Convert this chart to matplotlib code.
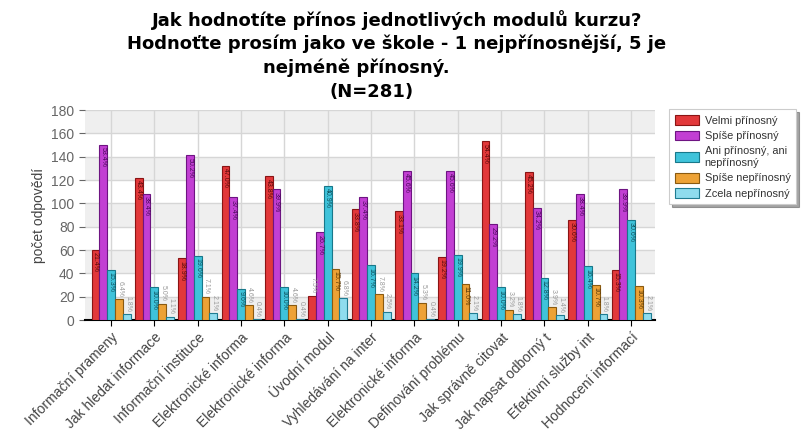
import matplotlib
matplotlib.use('Agg')
import matplotlib.pyplot as plt
import numpy as np

plt.rcParams['font.family'] = ['Liberation Sans', 'DejaVu Sans']

# data (N=281)
N = 281
modules = ['Informační prameny', 'Jak hledat informace', 'Informační instituce',
           'Elektronické informa', 'Elektronické informa', 'Úvodní modul',
           'Vyhledávání na inter', 'Elektronické informa', 'Definování problému',
           'Jak správně citovat', 'Jak napsat odborný t', 'Efektivní služby int',
           'Hodnocení informací']
velmi = [60, 122, 53, 132, 123, 21, 95, 93, 54, 153, 127, 86, 43]
spise = [150, 108, 141, 105, 112, 75, 105, 128, 128, 82, 96, 108, 112]
ani = [43, 28, 55, 27, 28, 115, 47, 40, 56, 28, 36, 46, 86]
spise_ne = [18, 14, 20, 13, 13, 44, 22, 15, 31, 9, 11, 30, 29]
zcela_ne = [5, 3, 6, 1, 1, 19, 7, 1, 6, 5, 4, 5, 6]

series = [velmi, spise, ani, spise_ne, zcela_ne]
names = ['Velmi přínosný', 'Spíše přínosný', 'Ani přínosný, ani\nnepřínosný',
         'Spíše nepřínosný', 'Zcela nepřínosný']
colors = ['#e2383a', '#c23fd3', '#3fc3da', '#eda236', '#8fdcee']
edges = ['#8a1414', '#6e1482', '#18788a', '#8a5a10', '#1f7c92']
text_cols = ['#5a0a0a', '#4a0a5a', '#0e4f5c', '#5c3a08', '#1f5c6c']

fig = plt.figure(figsize=(8.03, 4.40), dpi=100)
ax = fig.add_axes([85/803, 1 - 320/440, 570/803, 210/440])

x = np.arange(len(modules))
w = 0.18

# alternating bands
for lo in range(0, 180, 40):
    ax.axhspan(lo, lo + 20, color='#efefef', zorder=0, lw=0)
ax.grid(True, color='#d6d6d6', lw=1, zorder=1)
ax.set_axisbelow(True)

for i, (vals, c, e, tc) in enumerate(zip(series, colors, edges, text_cols)):
    xs = x + (i - 2) * w
    ax.bar(xs, vals, w, color=c, edgecolor=e, lw=0.8, label=names[i], zorder=3)
    for xx, v in zip(xs, vals):
        s = '%.1f%%' % (v / N * 100)
        if v >= 25:
            ax.text(xx, v - 2, s, rotation=-90, ha='center', va='top',
                    fontsize=5, color=tc, zorder=4)
        else:
            ax.text(xx + 0.02, v + 2, s, rotation=-90, ha='center', va='bottom',
                    fontsize=5, color='#999999', zorder=4)

ax.set_xlim(-0.6, 12.55)
ax.set_ylim(0, 180)
ax.set_yticks(range(0, 181, 20))
ax.set_xticks(x)
ax.set_xticklabels(modules, rotation=45, ha='right', rotation_mode='anchor',
                   fontsize=10, color='#444444')
ax.tick_params(axis='y', labelsize=10, colors='#666666', length=4)
ax.tick_params(axis='x', length=4, color='black')
for s in ['top', 'right', 'left']:
    ax.spines[s].set_visible(False)
ax.spines['bottom'].set_linewidth(1.5)
ax.set_ylabel('počet odpovědí', fontsize=10, color='#444444', labelpad=4)

# title lines
tkw = dict(ha='center', va='center', fontsize=13, fontweight='bold',
           family='DejaVu Sans')
fig.text(397/803, 1 - 20/440, 'Jak hodnotíte přínos jednotlivých modulů kurzu?', **tkw)
fig.text(397/803, 1 - 44/440, 'Hodnoťte prosím jako ve škole - 1 nejpřínosnější, 5 je', **tkw)
fig.text(356/803, 1 - 68/440, 'nejméně přínosný.', **tkw)
fig.text(372/803, 1 - 92/440, '(N=281)', **tkw)

leg = ax.legend(loc='upper left', bbox_to_anchor=(664/803, 1 - 104/440),
                bbox_transform=fig.transFigure, fontsize=7.9, frameon=True,
                fancybox=False, shadow=True, handlelength=2.2, handleheight=1.0,
                borderpad=0.5, labelspacing=0.45, handletextpad=0.5)
leg.get_frame().set_edgecolor('#cccccc')
leg.get_frame().set_linewidth(0.8)
for t in leg.get_texts():
    t.set_color('#333333')

fig.savefig('out.png', dpi=100)
